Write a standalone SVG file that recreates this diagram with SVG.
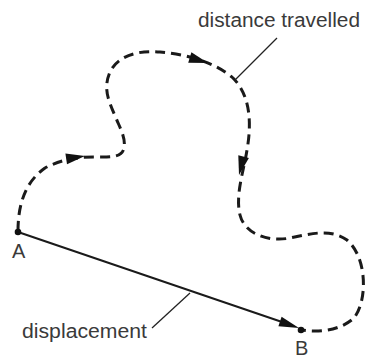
<svg xmlns="http://www.w3.org/2000/svg" width="367" height="358" viewBox="0 0 367 358">
<style>
.dash{fill:none;stroke:#1a1a1a;stroke-width:3;stroke-dasharray:10 6}
.line{fill:none;stroke:#1a1a1a;stroke-width:2}
.lead{fill:none;stroke:#222;stroke-width:1.3}
.head{fill:#111}
.lbl{font-family:"Liberation Sans",Arial,sans-serif;font-size:20px;fill:#3a3a3a}
</style>
<rect width="367" height="358" fill="#fff"/>
<g id="connectors">
<path class="dash" d="M18,231 C18,205 25,182 45,168 C60,160 75,157 95,157 C110,157 122,158 124,148 C126,138 120,128 116,118 C108,100 103,88 110,72 C118,55 140,50 160,52 C185,54 215,62 233,78 C250,95 252,122 247,150 C244,170 235,195 240,215 C245,235 270,242 290,238 C310,234 330,228 347,240 C367,257 368,300 354,318 C341,330 320,333 302,330"/>
<polygon class="head" points="85,156 65.4,153.4 67,164.2"/>
<polygon class="head" points="208,63 191.4,52.3 188.2,62.8"/>
<polygon class="head" points="239,175 238.3,155.3 248.9,157.9"/>
<line class="line" x1="18" y1="232" x2="285" y2="323"/>
<polygon class="head" points="299,328 281.6,316.8 278.4,326.2"/>
<line class="lead" x1="277" y1="38" x2="235" y2="80"/>
<line class="lead" x1="152" y1="328" x2="190" y2="293"/>
</g>
<g id="A">
<circle cx="18" cy="232" r="3.3" fill="#111"/>
<text class="lbl" x="12" y="258">A</text>
</g>
<g id="B">
<circle cx="301" cy="330" r="3.3" fill="#111"/>
<text class="lbl" x="295" y="355">B</text>
</g>
<g id="label-distance">
<text class="lbl" x="198" y="27" textLength="162" lengthAdjust="spacingAndGlyphs">distance travelled</text>
</g>
<g id="label-displacement">
<text class="lbl" x="22" y="338" textLength="125" lengthAdjust="spacingAndGlyphs">displacement</text>
</g>
</svg>
